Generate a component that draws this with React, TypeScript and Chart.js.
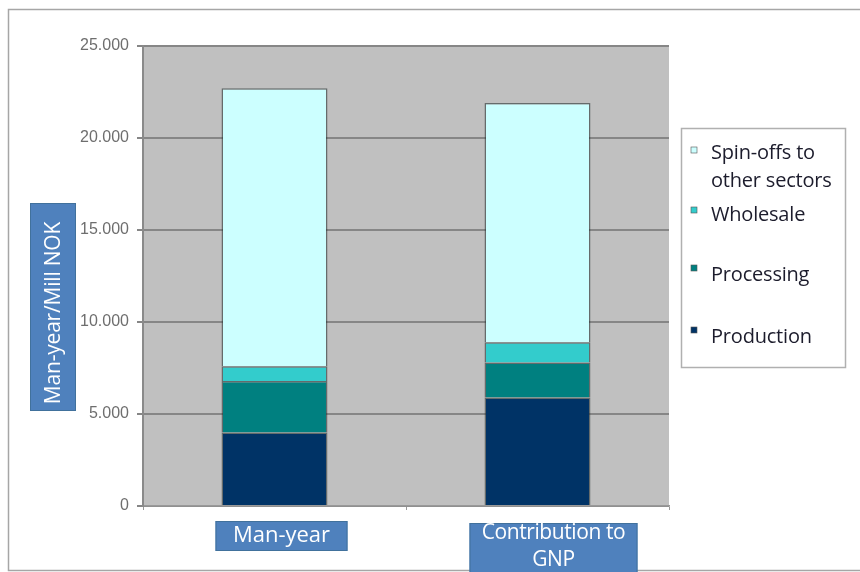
import React, { useEffect, useRef } from "react";
import { Chart, registerables } from "chart.js";

Chart.register(...registerables);

const categories: string[][] = [["Man-year"], ["Contribution to", "GNP"]];
const seriesNames: string[][] = [["Production"], ["Processing"], ["Wholesale"], ["Spin-offs to", "other sectors"]];
const production = [4000, 5900];
const processing = [2800, 1900];
const wholesale = [800, 1100];
const spinOffs = [15100, 13000];
const seriesColors = ["#003366", "#008080", "#33CCCC", "#CCFFFF"];
const yTicks = [0, 5000, 10000, 15000, 20000, 25000];
const yTitle = "Man-year/Mill NOK";

const CAL = "'Open Sans', 'Liberation Sans', sans-serif";

function fmt(v: number): string {
  if (v === 0) return "0";
  const th = Math.floor(v / 1000);
  const rest = String(v % 1000).padStart(3, "0");
  return th + "." + rest;
}

const framePlugin = {
  id: "frame",
  beforeDraw(chart: any) {
    const { ctx, chartArea } = chart;
    ctx.save();
    ctx.fillStyle = "#ffffff";
    ctx.fillRect(0, 0, chart.width, chart.height);
    ctx.strokeStyle = "#a6a6a6";
    ctx.lineWidth = 1.5;
    ctx.beginPath();
    ctx.moveTo(chart.width, 9.5);
    ctx.lineTo(8.5, 9.5);
    ctx.lineTo(8.5, 570.5);
    ctx.lineTo(chart.width, 570.5);
    ctx.stroke();
    ctx.fillStyle = "#C0C0C0";
    ctx.fillRect(chartArea.left, chartArea.top, chartArea.right - chartArea.left, chartArea.bottom - chartArea.top);
    ctx.restore();
  },
  afterDraw(chart: any) {
    const { ctx } = chart;
    const xs = chart.scales.x;
    ctx.save();
    // Y axis title box
    ctx.fillStyle = "#4F81BD";
    ctx.strokeStyle = "#41719C";
    ctx.lineWidth = 1;
    ctx.fillRect(30, 203, 46, 208);
    ctx.strokeRect(30.5, 203.5, 45, 207);
    ctx.translate(54, 313);
    ctx.rotate(-Math.PI / 2);
    ctx.fillStyle = "#ffffff";
    ctx.font = `21px ${CAL}`;
    ctx.textAlign = "center";
    ctx.textBaseline = "middle";
    (ctx as any).letterSpacing = "-0.2px";
    ctx.fillText(yTitle, 0, 0);
    ctx.setTransform(1, 0, 0, 1, 0, 0);

    // Category label boxes
    const boxes = [
      { dx: 7, w: 132, top: 521, h: 30 },
      { dx: 16, w: 168, top: 523, h: 52 },
    ];
    (ctx as any).letterSpacing = "0px";
    categories.forEach((lines, i) => {
      const cx = xs.getPixelForValue(i) + boxes[i].dx;
      const b = boxes[i];
      ctx.fillStyle = "#4F81BD";
      ctx.fillRect(cx - b.w / 2, b.top, b.w, b.h);
      ctx.strokeStyle = "#41719C";
      ctx.strokeRect(cx - b.w / 2 + 0.5, b.top + 0.5, b.w - 1, b.h - 1);
      ctx.fillStyle = "#ffffff";
      ctx.font = `${lines.length > 1 ? 21 : 22}px ${CAL}`;
      ctx.textAlign = "center";
      ctx.textBaseline = "middle";
      (ctx as any).letterSpacing = lines.length > 1 ? "-0.4px" : "0px";
      lines.forEach((ln, k) => {
        ctx.fillText(ln, cx, b.top + (lines.length > 1 ? 10 + k * 27 : 15));
      });
    });

    // Legend
    ctx.fillStyle = "#ffffff";
    ctx.fillRect(681, 128, 165, 240);
    ctx.strokeStyle = "#b0b0b0";
    ctx.lineWidth = 1.5;
    ctx.strokeRect(681.5, 128.5, 164, 239);
    const rows = [
      { idx: 3, my: 150, ty: 153 },
      { idx: 2, my: 210, ty: 215 },
      { idx: 1, my: 268, ty: 275 },
      { idx: 0, my: 330, ty: 337 },
    ];
    ctx.font = `20px ${CAL}`;
    ctx.textAlign = "left";
    ctx.textBaseline = "middle";
    (ctx as any).letterSpacing = "-0.2px";
    rows.forEach((r) => {
      ctx.fillStyle = seriesColors[r.idx];
      ctx.fillRect(691, r.my - 3, 6, 6);
      ctx.strokeStyle = "#555";
      ctx.lineWidth = 0.6;
      ctx.strokeRect(691, r.my - 3, 6, 6);
      ctx.fillStyle = "#1c1c2c";
      seriesNames[r.idx].forEach((ln, k) => {
        ctx.fillText(ln, 711, r.ty + k * 28);
      });
    });
    ctx.restore();
  },
};

export default function App() {
  const ref = useRef<HTMLCanvasElement | null>(null);
  useEffect(() => {
    document.body.style.margin = "0";
    const canvas = ref.current!;
    const data = [production, processing, wholesale, spinOffs];
    const chart = new Chart(canvas, {
      type: "bar",
      data: {
        labels: categories.map((c) => c.join(" ")),
        datasets: data.map((d, i) => ({
          label: seriesNames[i].join(" "),
          data: d,
          backgroundColor: seriesColors[i],
          borderColor: "rgba(40,50,50,0.6)",
          borderWidth: 1.5,
          barPercentage: 1,
          categoryPercentage: 0.403,
        })),
      },
      options: {
        responsive: false,
        animation: false,
        devicePixelRatio: 1,
        layout: { padding: { top: 46, right: 191, left: 0, bottom: 0 } },
        plugins: { legend: { display: false }, tooltip: { enabled: false } },
        scales: {
          x: {
            stacked: true,
            ticks: { display: false },
            grid: { drawOnChartArea: false, tickLength: 4, color: "#999" },
            border: { color: "#999", width: 1.5 },
            afterFit: (s: any) => {
              s.height = 66;
            },
          },
          y: {
            stacked: true,
            min: 0,
            max: 25000,
            afterBuildTicks: (s: any) => {
              s.ticks = yTicks.map((v) => ({ value: v }));
            },
            ticks: {
              callback: (v: any) => fmt(Number(v)),
              color: "#6e6e6e",
              font: { family: "'Liberation Sans', Arial, sans-serif", size: 16 },
              padding: 8,
            },
            grid: { color: "#868686", lineWidth: 2, tickLength: 6 },
            border: { color: "#8a8a8a", width: 2 },
            afterFit: (s: any) => {
              s.width = 143;
            },
          },
        },
      },
      plugins: [framePlugin],
    });
    return () => chart.destroy();
  }, []);
  return (
    <div style={{ position: "fixed", left: 0, top: 0, width: 860, height: 572 }}>
      <canvas ref={ref} width={860} height={572} style={{ width: 860, height: 572 }} />
    </div>
  );
}
